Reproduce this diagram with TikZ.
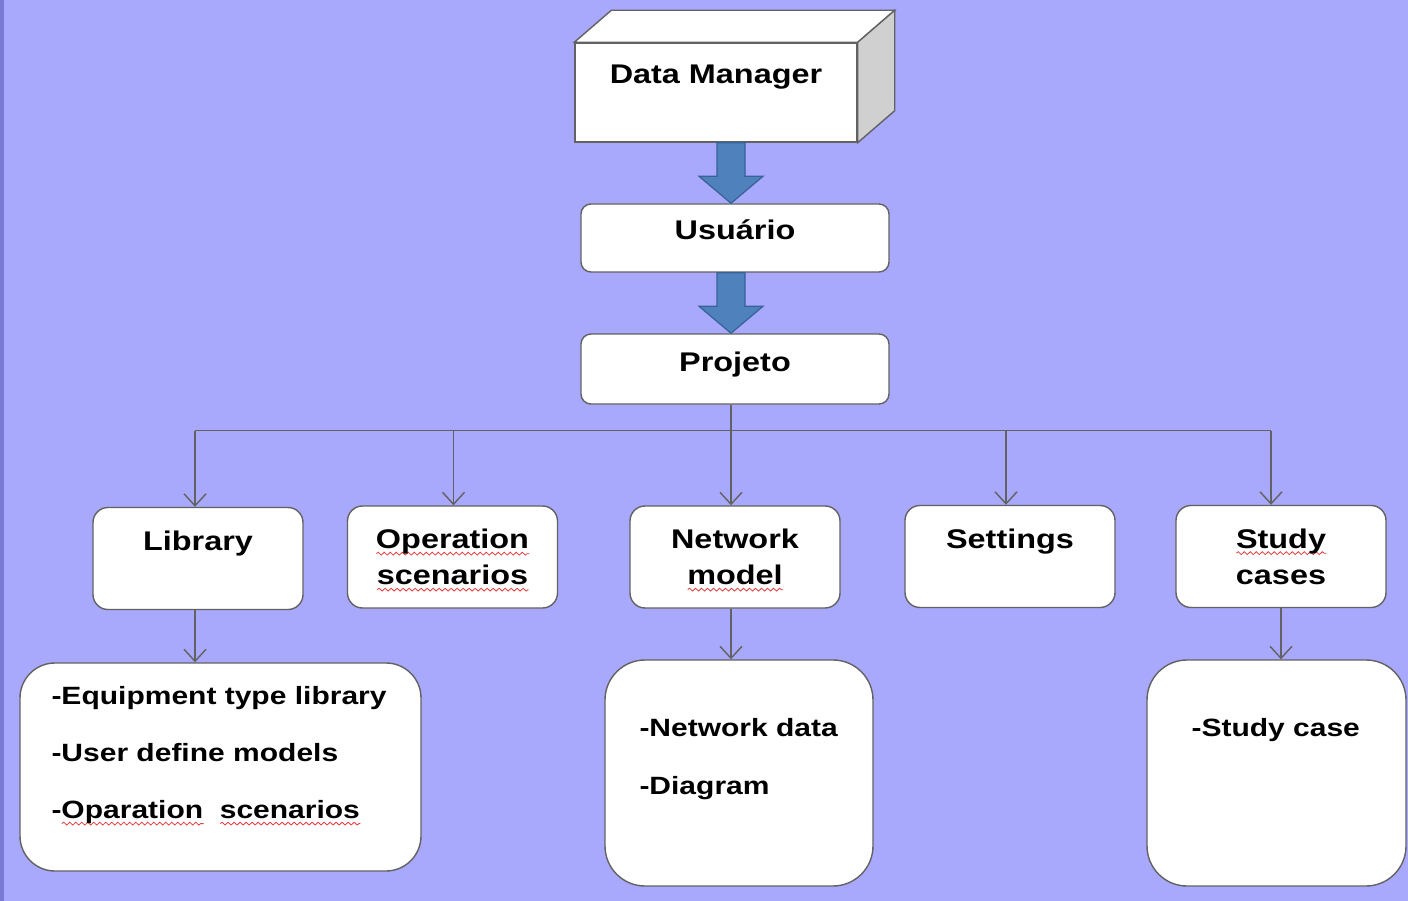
\documentclass[tikz,border=0pt]{standalone}
\usepackage{fontspec}
\setmainfont[FakeStretch=1.2]{Liberation Sans}
\usetikzlibrary{arrows.meta,calc,decorations.pathmorphing}
\definecolor{bgblue}{RGB}{168,168,252}
\definecolor{edgeblue}{RGB}{123,123,214}
\definecolor{arrowfill}{RGB}{79,129,189}
\definecolor{arrowline}{RGB}{56,98,150}
\definecolor{boxline}{RGB}{98,98,98}
\definecolor{sidegray}{RGB}{208,208,208}
\definecolor{wavered}{RGB}{228,60,60}
\newlength\wavelen
\newcommand\redwave[1]{\settowidth\wavelen{#1}%
  \rlap{\smash{\tikz[baseline=0pt, sharp corners]\draw[wavered, line width=0.8pt, decorate,
    decoration={snake, amplitude=1.4pt, segment length=6pt}] (0pt,-5pt) -- (\wavelen,-5pt);}}#1}
\begin{document}
\begin{tikzpicture}[x=1pt, y=1pt,
    box/.style={draw=boxline, fill=white, line width=1.4pt, rounded corners=10pt,
      inner sep=0pt, align=center, font=\fontsize{27}{36}\selectfont\bfseries},
    rowbox/.style={box, minimum width=210pt, minimum height=102pt, rounded corners=15pt},
    listbox/.style={box, rounded corners=40pt},
    listtxt/.style={inner sep=0pt, align=left, anchor=north west,
      font=\fontsize{25}{57}\selectfont\bfseries},
    wire/.style={draw=boxline, line width=1.4pt},
    drop/.style={wire, -{Straight Barb[length=12pt,width=22pt]}},
    bigarrow/.style={fill=arrowfill, draw=arrowline, line width=1.2pt, line join=miter}]
  \useasboundingbox (0,0) rectangle (1408,-901);
  \fill[bgblue] (0,0) rectangle (1408,-901);
  \fill[edgeblue] (0,0) rectangle (4,-901);

  \node[box, rounded corners=0pt, minimum width=282pt, minimum height=99pt] (dm) at (716,-92.5) {Data Manager\\\mbox{}};
  \draw[fill=white, draw=boxline, line width=1.4pt] (dm.north west) -- ++(37,32)
    -- ([shift={(37,32)}]dm.north east) -- (dm.north east) -- cycle;
  \draw[fill=sidegray, draw=boxline, line width=1.4pt] (dm.north east) -- ++(37,32)
    -- ([shift={(37,32)}]dm.south east) -- (dm.south east) -- cycle;

  \node[box, minimum width=308pt, minimum height=68pt, text height=20pt, text depth=16pt] (usr) at (735,-238) {Usuário};
  \node[box, minimum width=308pt, minimum height=70pt, text height=20pt, text depth=16pt] (proj) at (735,-369) {Projeto};

  \node[rowbox] (lib) at (198,-558.5) {Library\\\mbox{}};
  \node[rowbox] (ops) at (452.5,-557) {\redwave{Operation}\\\redwave{scenarios}};
  \node[rowbox] (net) at (735,-557) {Network\\\redwave{model}};
  \node[rowbox] (set) at (1010,-556.5) {Settings\\\mbox{}};
  \node[rowbox] (stu) at (1281,-556.5) {\redwave{Study}\\cases};

  \node[listbox, minimum width=401pt, minimum height=208pt, rounded corners=35pt] (libd) at (220.5,-767) {};
  \node[listbox, minimum width=268pt, minimum height=226pt] (netd) at (739,-773) {};
  \node[listbox, minimum width=259pt, minimum height=226pt] (stud) at (1276.5,-773) {};

  \node[listtxt] (libl) at ([shift={(32,-24)}]libd.north west)
    {-Equipment type library\\-User define models\\-\redwave{Oparation}\ \ \redwave{scenarios}};
  \node[listtxt, font=\fontsize{25}{58}\selectfont\bfseries] (netl) at ([shift={(35,-59)}]netd.north west)
    {-Network data\\-Diagram};
  \node[listtxt] (stul) at ([shift={(45,-59)}]stud.north west) {-Study case};

  \foreach \a/\b in {dm/usr, usr/proj} {
    \path ([xshift=-4pt]\b.north) coordinate (tip) (\a.south -| tip) coordinate (tail);
    \draw[bigarrow] ([xshift=-14pt]tail) -- ([shift={(-14,27)}]tip) -- ([shift={(-32,27)}]tip)
      -- (tip) -- ([shift={(32,27)}]tip) -- ([shift={(14,27)}]tip) -- ([xshift=14pt]tail) -- cycle;
  }

  \draw[wire] ([xshift=-4pt]proj.south) -- ++(0,-26) coordinate (bus);
  \draw[wire] ([xshift=-3pt]bus -| lib.north) -- ([xshift=-10pt]bus -| stu.north);
  \foreach \n/\dx in {lib/-3, ops/1, net/-4, set/-4, stu/-10}
    \draw[drop] ([xshift=\dx pt]bus -| \n.north) -- ([xshift=\dx pt]\n.north);
  \foreach \a/\b/\dx in {lib/libd/-3, net/netd/-4, stu/stud/0}
    \draw[drop] ([xshift=\dx pt]\a.south) -- ([xshift=\dx pt]\a.south |- \b.north);
\end{tikzpicture}
\end{document}
